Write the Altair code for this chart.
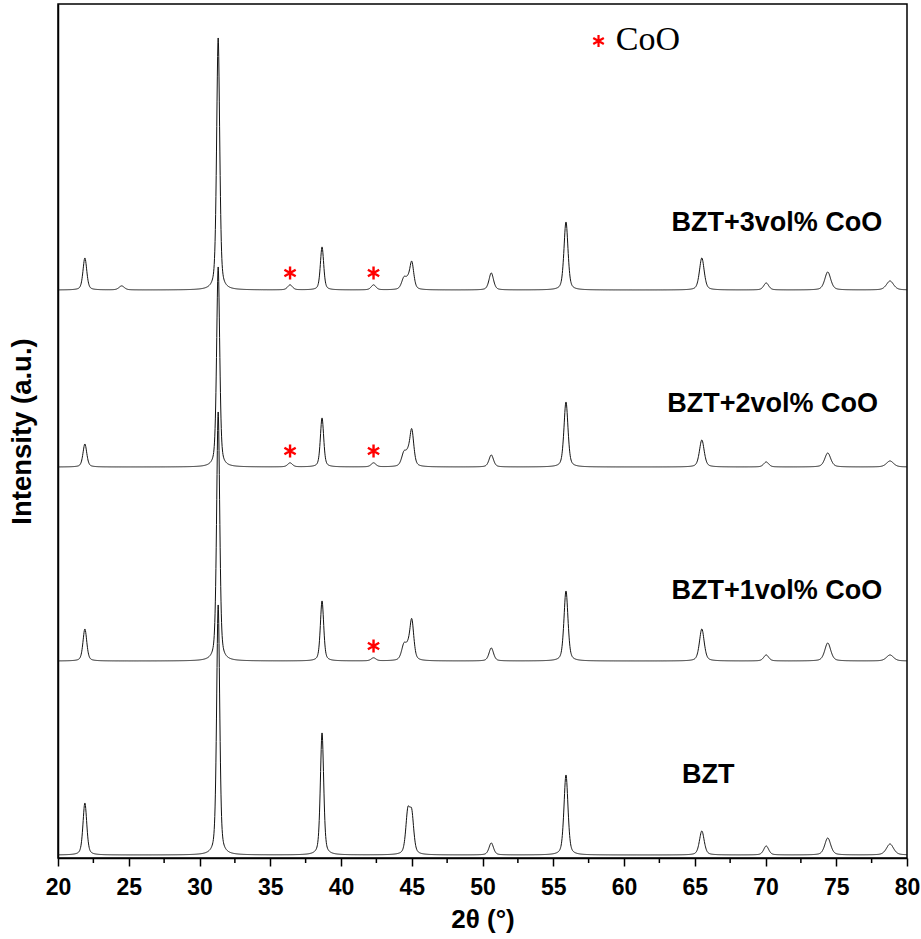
import altair as alt
import numpy as np
import pandas as pd

alt.data_transformers.disable_max_rows()

# Samples, stacked from bottom to top, with the vertical offset of each pattern
samples = ["BZT", "BZT+1vol% CoO", "BZT+2vol% CoO", "BZT+3vol% CoO"]
offsets = [3, 197, 391, 568]

# Reflections (2θ, degrees) and their widths (FWHM, degrees)
peak_pos = [21.9, 24.5, 31.32, 36.4, 38.66, 42.3, 44.45, 44.72, 45.0,
            50.62, 55.9, 65.5, 70.05, 74.4, 78.8]
peak_fwhm = [0.32, 0.45, 0.26, 0.40, 0.28, 0.40, 0.40, 0.34, 0.34,
             0.38, 0.34, 0.40, 0.42, 0.50, 0.60]

# Peak intensities (a.u.) of each sample at the reflections above
heights = {
    "BZT":           [52, 0, 250, 0, 122, 0, 0, 40, 38, 12, 80, 24, 9, 17, 11],
    "BZT+1vol% CoO": [32, 0, 249, 0, 60, 3, 15, 8, 40, 13, 70, 32, 6, 18, 6],
    "BZT+2vol% CoO": [23, 0, 200, 4, 49, 4, 13, 8, 36, 12, 65, 27, 5, 14, 6],
    "BZT+3vol% CoO": [32, 4, 252, 5, 43, 5, 11, 6, 27, 17, 68, 32, 7, 18, 9],
}

# CoO reflections marked with an asterisk on each pattern
coo_marks = [("BZT+1vol% CoO", 42.3),
             ("BZT+2vol% CoO", 36.4), ("BZT+2vol% CoO", 42.3),
             ("BZT+3vol% CoO", 36.4), ("BZT+3vol% CoO", 42.3)]

# Sample labels: text, 2θ position, intensity position
label_text = ["BZT+3vol% CoO", "BZT+2vol% CoO", "BZT+1vol% CoO", "BZT"]
label_x = [70.8, 70.5, 70.8, 65.96]
label_y = [635, 454, 267, 83]

# Axis ticks
major_ticks = list(range(20, 81, 5))
minor_ticks = [22.5 + 5 * k for k in range(12)]

ETA = 0.45  # Lorentzian fraction of the pseudo-Voigt profile
two_theta = np.round(np.arange(20.0, 80.0001, 0.02), 3)


def pattern(name, offset):
    y = np.full_like(two_theta, float(offset))
    for p, w, h in zip(peak_pos, peak_fwhm, heights[name]):
        if h == 0:
            continue
        d = (two_theta - p) / (w / 2.0)
        lor = 1.0 / (1.0 + d ** 2)
        gau = np.exp(-np.log(2.0) * d ** 2)
        y += h * (ETA * lor + (1 - ETA) * gau)
    return y


frames = []
for s, off in zip(samples, offsets):
    frames.append(pd.DataFrame({"two_theta": two_theta,
                                "intensity": pattern(s, off),
                                "sample": s}))
xrd = pd.concat(frames, ignore_index=True)

marks = []
for s, pos in coo_marks:
    i = samples.index(s)
    h = heights[s][peak_pos.index(pos)]
    marks.append({"two_theta": pos, "intensity": offsets[i] + h + 12})
marks = pd.DataFrame(marks)

labels = pd.DataFrame({"text": label_text, "two_theta": label_x,
                       "intensity": label_y})

ASTERISK = "M0,-1L0,1M-0.866,-0.5L0.866,0.5M-0.866,0.5L0.866,-0.5"

x_scale = alt.Scale(domain=[20, 80], nice=False, zero=False)
y_scale = alt.Scale(domain=[0, 854], nice=False, zero=False)

x_axis = alt.Axis(
    values=major_ticks,
    tickSize=8, tickColor="black", tickWidth=1.5,
    domainColor="black", domainWidth=1.5,
    labelFont="Liberation Sans", labelFontSize=23, labelFontWeight="bold",
    labelColor="black", labelPadding=10, labelFlush=False,
    title="2θ (°)", titleFont="Liberation Sans", titleFontSize=26,
    titleFontWeight="bold", titleColor="black",
    titleY=48, titleBaseline="top",
    grid=False,
)
y_axis = alt.Axis(
    labels=False, ticks=False, grid=False,
    domainColor="black", domainWidth=1.5,
    title="Intensity (a.u.)", titleFont="Liberation Sans", titleFontSize=27.5,
    titleFontWeight="bold", titleColor="black",
    titleAngle=270, titleX=-36, titleY=427,
    titleAlign="center", titleBaseline="middle",
)

lines = alt.Chart(xrd).mark_line(color="#111111", strokeWidth=1,
                                 strokeJoin="round").encode(
    x=alt.X("two_theta:Q", scale=x_scale, axis=x_axis),
    y=alt.Y("intensity:Q", scale=y_scale, axis=y_axis),
    detail="sample:N",
)

# Short minor ticks hanging below the 2θ axis line
minor = alt.Chart(pd.DataFrame({"two_theta": minor_ticks})).mark_rule(
    color="black", strokeWidth=1.5, clip=False,
).encode(x="two_theta:Q", y=alt.value(854), y2=alt.value(859))

stars = alt.Chart(marks).mark_point(
    shape=ASTERISK, filled=False, stroke="#ff0000", strokeWidth=2.4, size=170,
    opacity=1,
).encode(x="two_theta:Q", y="intensity:Q")

sample_labels = alt.Chart(labels).mark_text(
    font="Liberation Sans", fontSize=27, fontWeight="bold", color="black",
    align="center", baseline="middle",
).encode(x="two_theta:Q", y="intensity:Q", text="text:N")

legend_star = alt.Chart(pd.DataFrame({"two_theta": [58.2], "intensity": [817]})).mark_point(
    shape=ASTERISK, filled=False, stroke="#ff0000", strokeWidth=2.2, size=150,
    opacity=1,
).encode(x="two_theta:Q", y="intensity:Q")

legend_text = alt.Chart(pd.DataFrame({"two_theta": [59.42], "intensity": [818],
                                      "text": ["CoO"]})).mark_text(
    font="Liberation Serif", fontSize=34, color="black",
    align="left", baseline="middle",
).encode(x="two_theta:Q", y="intensity:Q", text="text:N")

chart = alt.layer(lines, minor, stars, sample_labels, legend_star, legend_text).properties(
    width=849, height=854,
    padding={"left": 58, "top": 4, "right": 14, "bottom": 81},
    autosize=alt.AutoSizeParams(type="none"),
    background="white",
).configure_view(stroke="black", strokeWidth=1.5)

chart.save("out.html", embed_options={"renderer": "svg", "actions": False})
